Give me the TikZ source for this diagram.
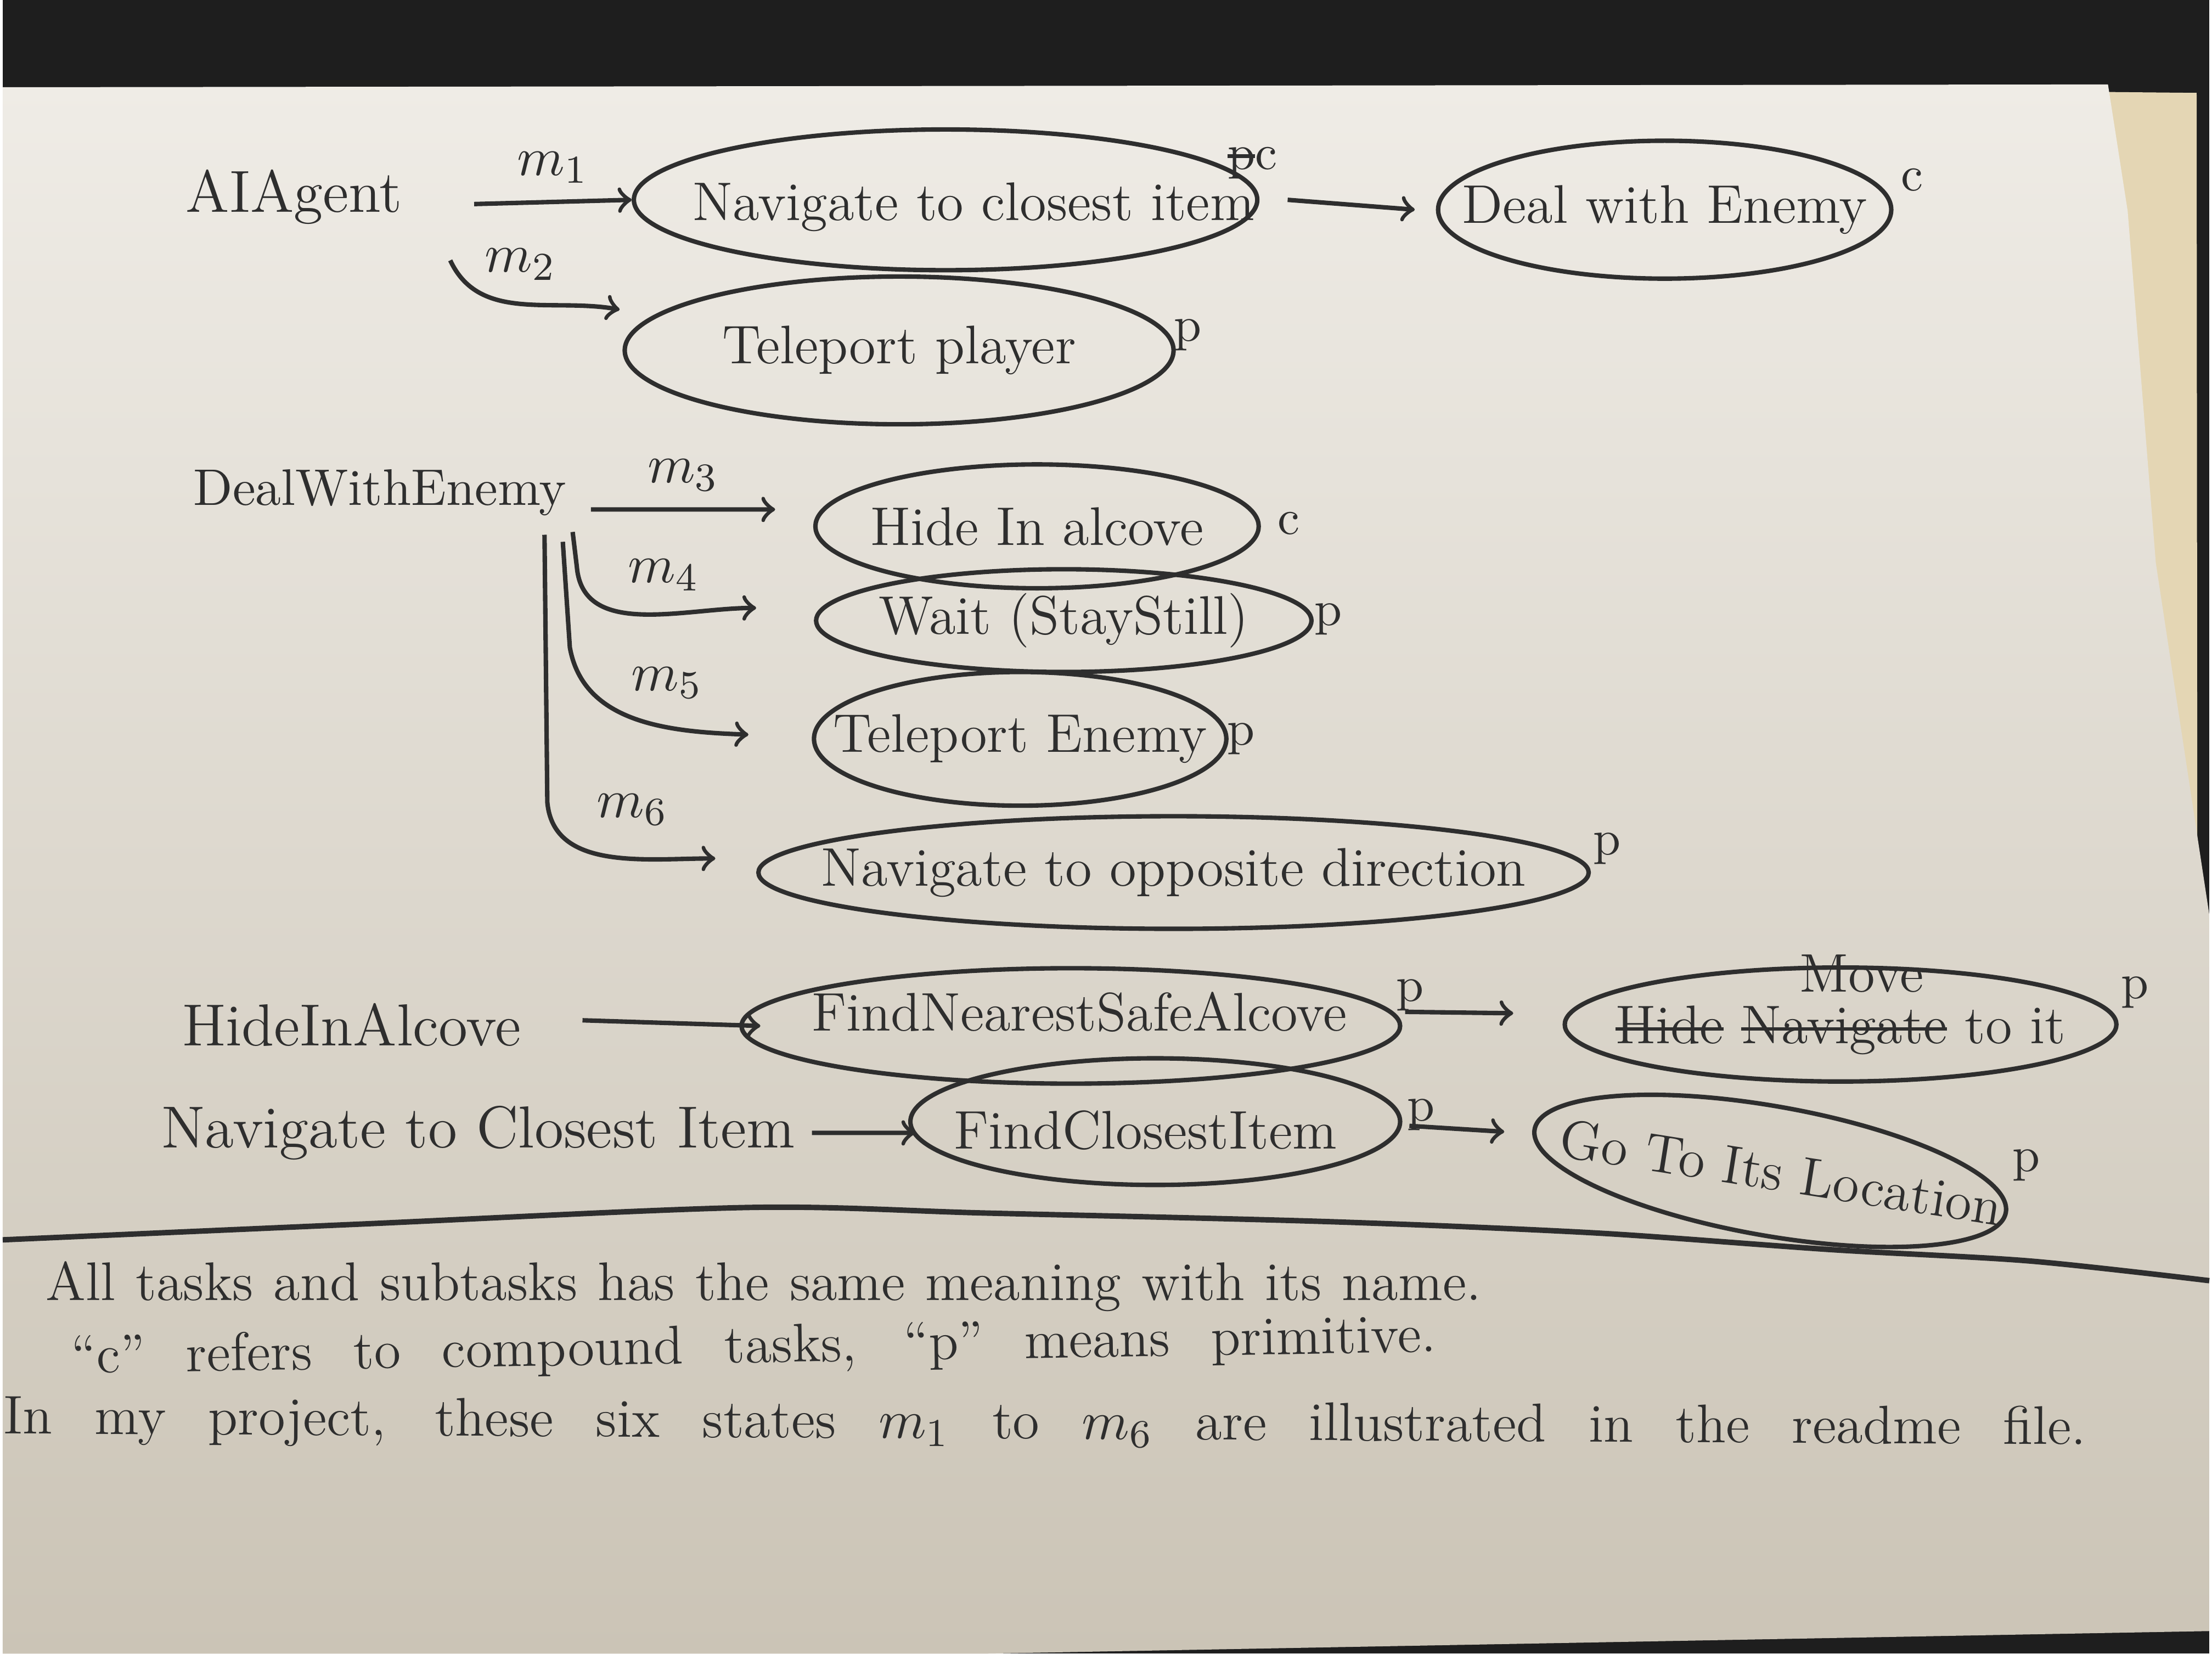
\documentclass[tikz,border=0pt]{standalone}
\usepackage{amsmath}
\usepackage{tikz}
\usetikzlibrary{arrows}
\usetikzlibrary{shapes.geometric}
\usetikzlibrary{positioning}
\tikzset{>=to}
\definecolor{ink}{HTML}{2E2E2E}
\definecolor{backdrop}{HTML}{1E1E1E}
\definecolor{papertop}{HTML}{EFECE6}
\definecolor{paperlow}{HTML}{CBC4B6}
\definecolor{cardboard}{HTML}{E4D6B4}
\newcommand{\strikeout}[1]{\leavevmode\setbox0\hbox{#1}\rlap{\raisebox{0.55ex}{\rule{\wd0}{0.7pt}}}\box0\relax}
\tikzset{
  task/.style={draw=ink, ellipse, line width=0.9pt, inner sep=0pt},
  tasktext/.style={font=\fontsize{11}{13}\selectfont, text=ink},
  head/.style={font=\fontsize{12}{14}\selectfont, text=ink},
  kind/.style={font=\fontsize{10}{12}\selectfont, text=ink},
  edge/.style={->, draw=ink, line width=0.9pt},
  note/.style={font=\fontsize{11}{13}\selectfont, text=ink, inner sep=0pt},
}

\begin{document}
\begin{tikzpicture}
    % Draw the sheet of paper and the dark table behind it.
    \fill[backdrop] (0,0) rectangle (15.68,-11.75);
    \fill[cardboard] (14.6,-0.65) -- (15.59,-0.66) -- (15.60,-11.55) -- (14.6,-11.55) -- cycle;
    \shade[top color=papertop, bottom color=paperlow] (0,-0.62) -- (14.96,-0.60) -- (15.1,-1.5)
        -- (15.3,-4.0) -- (15.68,-6.5) -- (15.68,-11.59) -- (7.0,-11.75) -- (0,-11.75) -- cycle;

    % AIAgent and its two methods.
    \node[head] (aia) at (2.07,-1.40) {AIAgent};
    \node[task, minimum width=4.43cm, minimum height=1.0cm,
        label={[tasktext, xshift=2mm, yshift=-0.5mm]center:Navigate to closest item}] (nci) at (6.70,-1.42) {};
    \node[kind] (ncik) at (8.88,-1.16) {\strikeout{p}c};
    \draw[edge] ([shift={(1.28,-0.05)}]aia.center) -- node[above, tasktext] {$m_1$} (nci.west);
    \node[task, minimum width=3.22cm, minimum height=0.98cm,
        label={[tasktext]center:Deal with Enemy}] (dwe) at (11.81,-1.49) {};
    \node[kind] (dwek) at (13.57,-1.28) {c};
    \draw[edge] ([xshift=2mm]nci.east) -- ([xshift=-1.5mm]dwe.west);
    \node[task, minimum width=3.9cm, minimum height=1.05cm,
        label={[tasktext]center:Teleport player}] (tp) at (6.37,-2.49) {};
    \node[kind] (tpk) at (8.42,-2.38) {p};
    \draw[edge] ([shift={(1.11,-0.45)}]aia.center) to[out=-65, in=170]
        node[above=1pt, tasktext] {$m_2$} ([shift={(-0.02,0.29)}]tp.west);

    % DealWithEnemy and its four methods.
    \node[head, font=\fontsize{10.4}{12}\selectfont] (dwet) at (2.68,-3.50) {DealWithEnemy};
    \node[task, minimum width=3.15cm, minimum height=0.88cm,
        label={[tasktext]center:Hide In alcove}] (hia) at (7.35,-3.74) {};
    \node[kind] (hiak) at (9.14,-3.72) {c};
    \draw[edge] ([shift={(1.50,-0.12)}]dwet.center) -- node[above, tasktext] {$m_3$} ([shift={(-0.27,0.12)}]hia.west);
    \node[task, minimum width=3.52cm, minimum height=0.73cm,
        label={[tasktext]center:Wait (StayStill)}] (wait) at (7.54,-4.41) {};
    \node[kind] (waitk) at (9.42,-4.40) {p};
    \draw[edge] ([shift={(1.37,-0.28)}]dwet.center) -- ++(0.03,-0.25) to[out=-85, in=180]
        node[pos=0.6, above=1pt, tasktext] {$m_4$} ([shift={(-0.41,0.09)}]wait.west);
    \node[task, minimum width=2.93cm, minimum height=0.95cm,
        label={[tasktext]center:Teleport Enemy}] (te) at (7.23,-5.25) {};
    \node[kind] (tek) at (8.80,-5.25) {p};
    \draw[edge] ([shift={(1.30,-0.35)}]dwet.center) -- ++(0.05,-0.75) to[out=-80, in=178]
        node[pos=0.65, above=2pt, tasktext] {$m_5$} ([shift={(-0.45,0.03)}]te.west);
    \node[task, minimum width=5.90cm, minimum height=0.80cm,
        label={[tasktext]center:Navigate to opposite direction}] (nod) at (8.32,-6.20) {};
    \node[kind] (nodk) at (11.40,-6.03) {p};
    \draw[edge] ([shift={(1.17,-0.30)}]dwet.center) -- ++(0.02,-1.90) to[out=-85, in=180]
        node[pos=0.62, above=3pt, tasktext] {$m_6$} ([shift={(-0.29,0.10)}]nod.west);

    % HideInAlcove.
    \node[head] (hiat) at (2.48,-7.28) {HideInAlcove};
    \node[task, minimum width=4.68cm, minimum height=0.82cm,
        label={[tasktext, xshift=0.6mm, yshift=1mm]center:FindNearestSafeAlcove}] (fnsa) at (7.59,-7.29) {};
    \node[kind] (fnsak) at (10.00,-7.07) {p};
    \draw[edge] ([shift={(1.64,0.03)}]hiat.center) -- ([xshift=1.5mm]fnsa.west);
    \node[task, minimum width=3.92cm, minimum height=0.81cm,
        label={[tasktext, yshift=-0.4mm]center:\strikeout{Hide} \strikeout{Navigate} to it},
        label={[tasktext, xshift=1.5mm, yshift=3.6mm]center:Move}] (mti) at (13.06,-7.28) {};
    \node[kind] (mtik) at (15.15,-7.05) {p};
    \draw[edge] ([shift={(0.02,0.10)}]fnsa.east) -- ([shift={(-0.35,0.08)}]mti.west);

    % Navigate to Closest Item.
    \node[head] (ncit) at (3.38,-8.05) {Navigate to Closest Item};
    \node[task, minimum width=3.48cm, minimum height=0.90cm,
        label={[tasktext, xshift=-0.7mm, yshift=-0.6mm]center:FindClosestItem}] (fci) at (8.19,-7.97) {};
    \node[kind] (fcik) at (10.08,-7.92) {p};
    \draw[edge] ([xshift=2.37cm]ncit.center) -- ([shift={(0.05,-0.08)}]fci.west);
    \node[task, minimum width=3.40cm, minimum height=0.92cm, rotate=-10,
        label={[tasktext, rotate=-9, xshift=0.8mm]center:Go To Its Location}] (gtl) at (12.56,-8.32) {};
    \node[kind] (gtlk) at (14.38,-8.28) {p};
    \draw[edge] ([shift={(0.05,-0.03)}]fci.east) -- ([shift={(-0.20,-0.02)}]gtl.west);

    % Draw the line above the notes.
    \draw[ink, line width=1.1pt] plot[smooth] coordinates {(0,-8.81) (2.5,-8.70) (5.3,-8.58) (7.0,-8.62)
        (9.4,-8.68) (11.3,-8.76) (13.0,-8.88) (14.4,-8.96) (15.68,-9.10)};

    % Notes.
    \node[note, anchor=west] (note1) at (0.30,-9.14) {\makebox[10.2cm][s]{All tasks and subtasks has the same meaning with its name.}};
    \node[note, anchor=west, rotate=0.9] (note2) at (0.48,-9.66) {\makebox[9.7cm][s]{``c'' refers to compound tasks, ``p'' means primitive.}};
    \node[note, anchor=west, rotate=-0.3] (note3) at (0.0,-10.09) {\makebox[14.8cm][s]{In my project, these six states $m_1$ to $m_6$ are illustrated in the readme file.}};
\end{tikzpicture}
\end{document}
